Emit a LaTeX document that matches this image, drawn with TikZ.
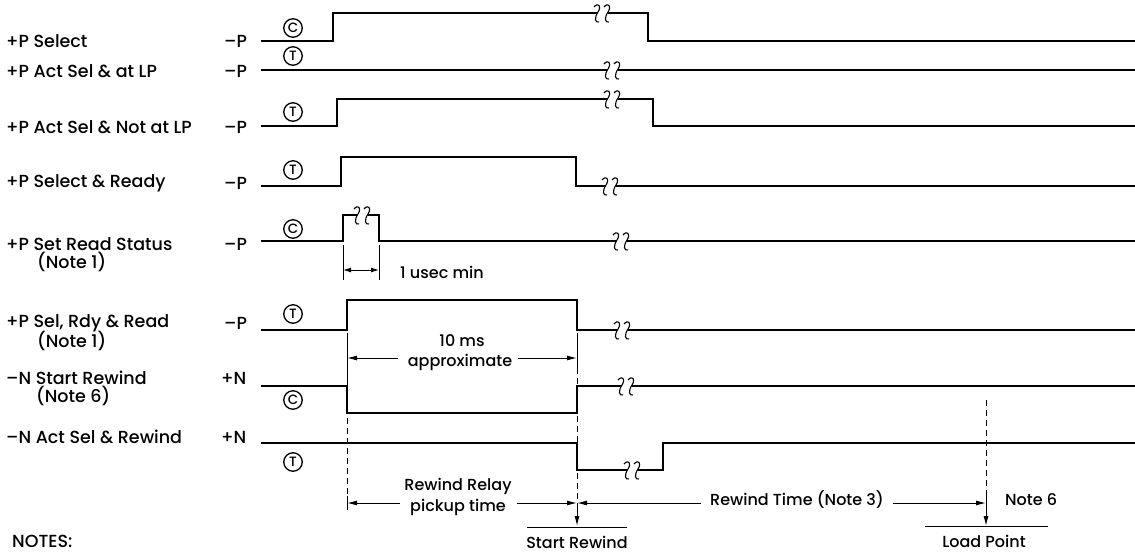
\documentclass[tikz,border=0pt]{standalone}
\usepackage{fontspec}
\setmainfont{Poppins}[UprightFont=* Medium]
\usetikzlibrary{arrows.meta}
\begin{document}
\begin{tikzpicture}[x=1pt,y=-1pt,
  sig/.style={line width=1.4pt, line join=miter},
  dimln/.style={line width=1pt},
  dashln/.style={line width=1pt, dash pattern=on 6pt off 4pt},
  arr/.style={dimln, -{Latex[length=10pt,width=5pt]}},
  lbl/.style={anchor=west, inner sep=0pt, font=\fontsize{17.5}{19}\selectfont},
  txt/.style={inner sep=0pt, font=\fontsize{16}{18}\selectfont},
  circ/.style={circle, draw, line width=1.3pt, minimum size=18.5pt, inner sep=0pt, font=\fontsize{13.5}{13.5}\selectfont},
  brk/.pic={
    \draw[line width=1.1pt] (-9,-6) .. controls (-5,-11) and (-1,-7) .. (-5,-1) .. controls (-9,5) and (-8,10) .. (-4,9);
    \draw[line width=1.1pt] (1,-6) .. controls (5,-11) and (9,-7) .. (5,-1) .. controls (1,5) and (2,10) .. (6,9);
  }]
\useasboundingbox (0,0) rectangle (1135,552);

% ---- signal names
\node[lbl] (l1) at (6,41) {+P Select};
\node[lbl] (l2) at (6,71) {+P Act Sel \& at LP};
\node[lbl] (l3) at (6,127) {+P Act Sel \& Not at LP};
\node[lbl] (l4) at (6,183) {+P Select \& Ready};
\node[lbl] (l5) at (6,244) {+P Set Read Status};
\node[lbl] (l5b) at (37,262) {(Note 1)};
\node[lbl] (l6) at (6,323) {+P Sel, Rdy \& Read};
\node[lbl] (l6b) at (37,341) {(Note 1)};
\node[lbl] (l7) at (6,378) {–N Start Rewind};
\node[lbl] (l7b) at (36,396) {(Note 6)};
\node[lbl] (l8) at (6,437) {–N Act Sel \& Rewind};
\node[lbl] (notes) at (12,541) {NOTES:};

% ---- polarity
\node[lbl] (p1) at (224,41) {–P};
\node[lbl] (p2) at (224,71) {–P};
\node[lbl] (p3) at (224,127) {–P};
\node[lbl] (p4) at (224,183) {–P};
\node[lbl] (p5) at (224,244) {–P};
\node[lbl] (p6) at (224,323) {–P};
\node[lbl] (p7) at (221,378) {+N};
\node[lbl] (p8) at (221,437) {+N};

% ---- circled letters
\node[circ] (c1) at (293,28) {C};
\node[circ] (c2) at (293,56) {T};
\node[circ] (c3) at (293,112) {T};
\node[circ] (c4) at (293,170) {T};
\node[circ] (c5) at (293,229) {C};
\node[circ] (c6) at (293,314) {T};
\node[circ] (c7) at (293,400) {C};
\node[circ] (c8) at (293,462) {T};

% ---- waveforms
% row 1
\draw[sig] (261,41) -- (333,41) -- (333,13) -- (597,13);
\draw[sig] (608,13) -- (648,13) -- (648,41) -- (1135,41);
\pic at (603,13) {brk};
% row 2
\draw[sig] (261,70) -- (607,70);
\draw[sig] (618,70) -- (1135,70);
\pic at (613,70) {brk};
% row 3
\draw[sig] (261,126) -- (337,126) -- (337,99) -- (607,99);
\draw[sig] (618,99) -- (653,99) -- (653,126) -- (1135,126);
\pic at (613,99) {brk};
% row 4
\draw[sig] (261,186) -- (341,186) -- (341,157) -- (576,157) -- (576,186) -- (605,186);
\draw[sig] (616,186) -- (1135,186);
\pic at (611,186) {brk};
% row 5
\draw[sig] (261,241) -- (343,241) -- (343,215) -- (357,215);
\draw[sig] (368,215) -- (379,215) -- (379,241) -- (616,241);
\draw[sig] (627,241) -- (1135,241);
\pic at (363,215) {brk};
\pic at (622,241) {brk};
% row 6
\draw[sig] (261,330) -- (347,330) -- (347,300) -- (577,300) -- (577,330) -- (617,330);
\draw[sig] (628,330) -- (1135,330);
\pic at (623,330) {brk};
% row 7
\draw[sig] (261,386) -- (347,386) -- (347,413) -- (577,413) -- (577,386) -- (621,386);
\draw[sig] (632,386) -- (1135,386);
\pic at (627,386) {brk};
% row 8
\draw[sig] (261,443) -- (577,443) -- (577,470) -- (627,470);
\draw[sig] (638,470) -- (663,470) -- (663,443) -- (1135,443);
\pic at (633,470) {brk};

% ---- 1 usec min
\coordinate (u1) at (343,270);
\coordinate (u2) at (379,270);
\draw[dimln] (343,245) -- (343,280);
\draw[dimln] (379,245) -- (379,280);
\draw[dimln, {Latex[length=8pt,width=5pt]}-{Latex[length=8pt,width=5pt]}] (u1) -- (u2);
\node[txt, anchor=west] (usec) at (400,272) {1 usec min};

% ---- 10 ms approximate
\draw[dimln] (347,333) -- (347,386);
\draw[dimln] (577,333) -- (577,368);
\node[txt] (ms1) at (462,341) {10 ms};
\node[txt] (ms2) at (460,362) {approximate};
\coordinate (m1) at (347,358);
\coordinate (m2) at (577,358);
\coordinate (m1s) at (398,358);
\coordinate (m2s) at (518,358);
\draw[arr] (m1s) -- (m1);
\draw[arr] (m2s) -- (m2);

% ---- dashed timing lines
\draw[dashln] (347,418) -- (347,496);
\draw[dimln] (347,496) -- (347,510);
\draw[dashln] (577,368) -- (577,386);
\draw[dashln] (577,416) -- (577,443);
\draw[dashln] (577,473) -- (577,500);
\draw[dashln] (986,400) -- (986,496);

% ---- bottom arrows
\node[txt] (rr1) at (458,486) {Rewind Relay};
\node[txt] (rr2) at (458,507) {pickup time};
\coordinate (sr) at (577,503);
\coordinate (lp) at (986,503);
\coordinate (b1) at (347,503);
\coordinate (b1s) at (400,503);
\coordinate (b2s) at (517,503);
\coordinate (b3s) at (701,503);
\coordinate (b4s) at (893,503);
\draw[arr] (b1s) -- (b1);
\draw[arr] (b2s) -- (sr);
\node[txt] (rt) at (797,500) {Rewind Time (Note 3)};
\draw[arr] (b3s) -- (sr);
\draw[arr] (b4s) -- (lp);
\draw[dimln] (986,495) -- (986,511);
\node[txt, anchor=west] (n6) at (1005,500) {Note 6};

\coordinate (sra) at (577,526);
\coordinate (lpa) at (986,526);
\draw[arr] (sr) -- (sra);
\draw[arr] (lp) -- (lpa);
\draw[dimln] (527,527) -- (627,527);
\draw[dimln] (925,526) -- (1048,526);
\node[txt] (srt) at (577,542) {Start Rewind};
\node[txt] (lpt) at (984,541) {Load Point};
\end{tikzpicture}
\end{document}
